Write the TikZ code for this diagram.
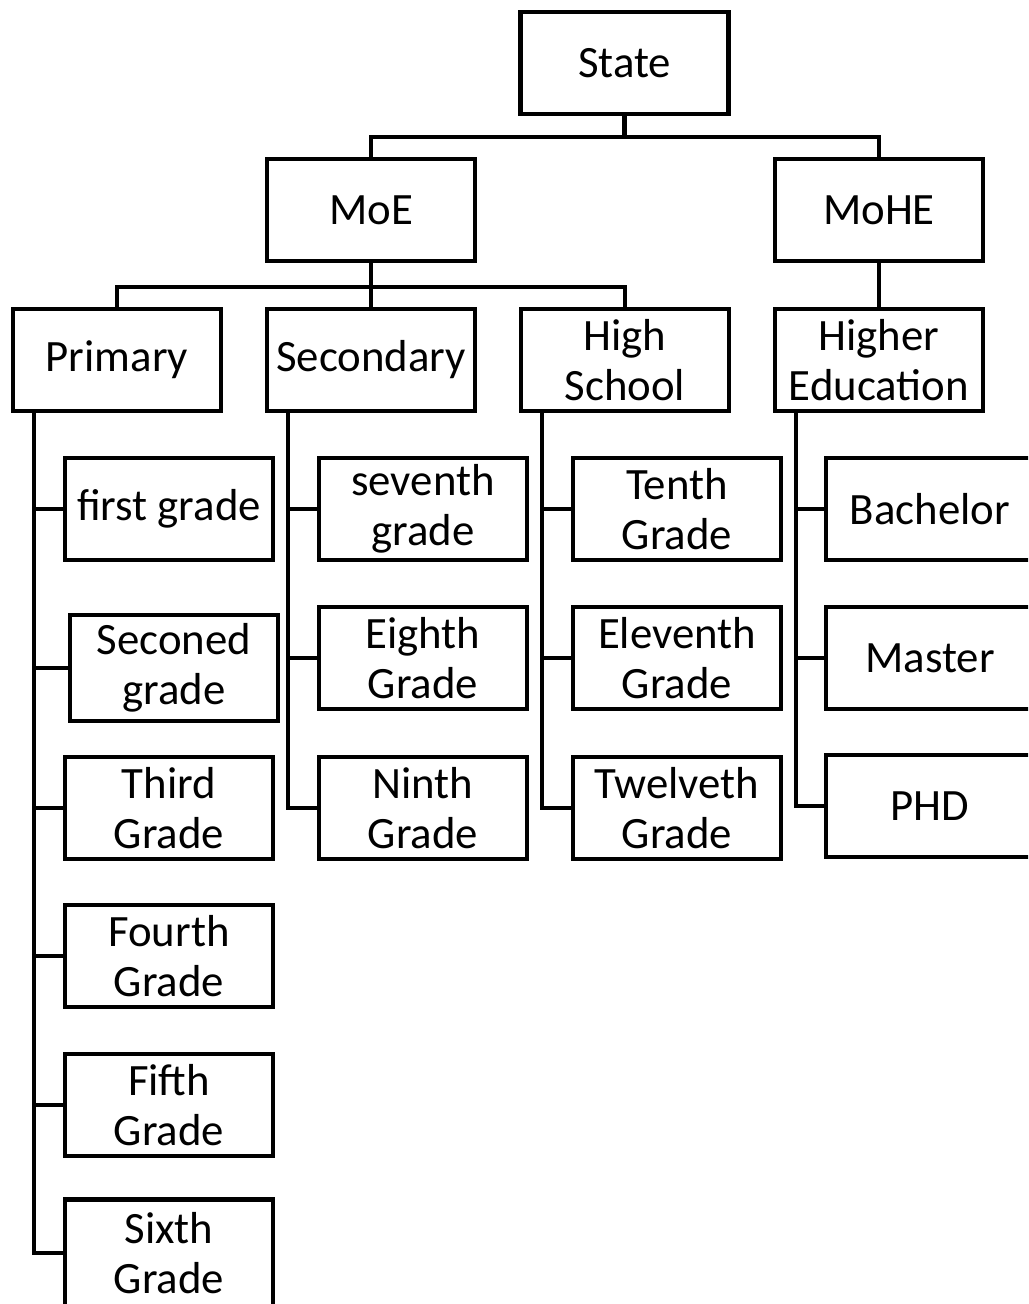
\documentclass[tikz,border=0pt]{standalone}
\usepackage{fontspec}
\setmainfont{Carlito}
\begin{document}
\begin{tikzpicture}[x=0.5pt,y=-0.5pt,
  box/.style={draw,line width=2.4pt,rectangle,align=center,inner sep=0pt,
    minimum width=104pt,minimum height=51pt,
    font=\fontsize{22.4}{25}\selectfont},
  conn/.style={line width=2.4pt}]
\useasboundingbox (0,0) rectangle (1028,1304);
\clip (0,0) rectangle (1028,1304);
% level 0-1
\node[box] (state) at (624.5,63) {State};
\node[box] (moe) at (371,210) {MoE};
\node[box] (mohe) at (879,210) {MoHE};
% level 2
\node[box] (primary) at (117,360) {Primary};
\node[box] (secondary) at (371,360) {Secondary};
\node[box] (high) at (625,360) {High\\School};
\node[box] (highered) at (879,360) {Higher\\Education};
% primary children
\node[box] (g1) at (169,509) {first grade};
\node[box,minimum height=53pt] (g2) at (174,668) {Seconed\\grade};
\node[box] (g3) at (169,808) {Third\\Grade};
\node[box] (g4) at (169,956) {Fourth\\Grade};
\node[box] (g5) at (169,1105) {Fifth\\Grade};
\node[box,minimum height=53.5pt] (g6) at (169,1253) {Sixth\\Grade};
% secondary children
\node[box] (g7) at (423,509) {seventh\\grade};
\node[box] (g8) at (423,658) {Eighth\\Grade};
\node[box] (g9) at (423,808) {Ninth\\Grade};
% high school children
\node[box] (g10) at (677,509) {Tenth\\Grade};
\node[box] (g11) at (677,658) {Eleventh\\Grade};
\node[box] (g12) at (677,808) {Twelveth\\Grade};
% higher education children
\node[box] (bach) at (930,509) {Bachelor};
\node[box] (mast) at (930,658) {Master};
\node[box] (phd) at (930,806) {PHD};
% connectors top
\coordinate (b0) at (624.5,137);
\draw[conn] (state.south) -- (b0);
\draw[conn] (moe.north) |- (b0) -| (mohe.north);
\coordinate (b1) at (371,287);
\draw[conn] (moe.south) -- (b1);
\draw[conn] (primary.north) |- (b1) -| (high.north);
\draw[conn] (secondary.north) -- (b1);
\draw[conn] (mohe.south) -- (highered.north);
% trunks
\coordinate (tp) at (34,360);
\coordinate (ts) at (288,360);
\coordinate (th) at (542,360);
\coordinate (te) at (796,360);
\draw[conn] (primary.south -| tp) |- (g6.west);
\foreach \c in {g1,g2,g3,g4,g5} \draw[conn] (\c.west) -- (\c.west -| tp);
\draw[conn] (secondary.south -| ts) |- (g9.west);
\foreach \c in {g7,g8} \draw[conn] (\c.west) -- (\c.west -| ts);
\draw[conn] (high.south -| th) |- (g12.west);
\foreach \c in {g10,g11} \draw[conn] (\c.west) -- (\c.west -| th);
\draw[conn] (highered.south -| te) |- (phd.west);
\foreach \c in {bach,mast} \draw[conn] (\c.west) -- (\c.west -| te);
\end{tikzpicture}
\end{document}
